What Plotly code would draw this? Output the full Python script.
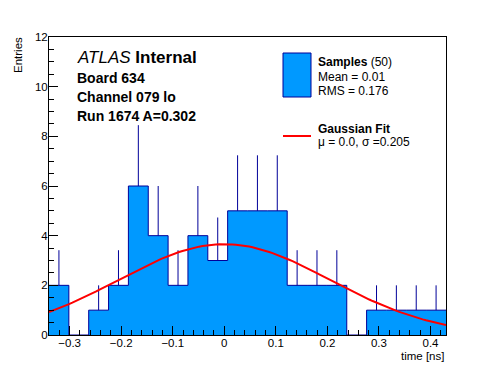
import numpy as np
import plotly.graph_objects as go

# ---- data ----
x_min = -0.34
x_max = 0.43
counts = [2, 0, 1, 2, 6, 4, 2, 4, 3, 5, 5, 5, 2, 2, 2, 0, 1, 1, 1, 1]
fit_mu = 0.0
fit_sigma = 0.205
fit_amp = 3.66
x_ticks = [-0.3, -0.2, -0.1, 0, 0.1, 0.2, 0.3, 0.4]
y_ticks = [0, 2, 4, 6, 8, 10, 12]

n_bins = len(counts)
edges = np.linspace(x_min, x_max, n_bins + 1)
centers = 0.5 * (edges[:-1] + edges[1:])

FONT = "Liberation Sans, Arial, Helvetica, sans-serif"
FILL = "#0099ff"
EDGE = "#000099"

fig = go.Figure()

# histogram as step outline with fill
step_x = list(edges)
step_y = list(counts) + [counts[-1]]
fig.add_trace(go.Scatter(
    x=step_x, y=step_y, mode="lines", line=dict(shape="hv", color=EDGE, width=1),
    fill="tozeroy", fillcolor=FILL, hoverinfo="skip", showlegend=False))

# error bars (upper only)
ex, ey = [], []
for c, n in zip(centers, counts):
    if n > 0:
        ex += [c, c, None]
        ey += [n, n + np.sqrt(n), None]
fig.add_trace(go.Scatter(x=ex, y=ey, mode="lines", line=dict(color=EDGE, width=1),
                         hoverinfo="skip", showlegend=False))

# gaussian fit curve
gx = np.linspace(x_min, x_max, 120)
gy = fit_amp * np.exp(-0.5 * ((gx - fit_mu) / fit_sigma) ** 2)
fig.add_trace(go.Scatter(x=gx, y=gy, mode="lines", line=dict(color="#ff0000", width=2),
                         hoverinfo="skip", showlegend=False))

# page body has an 8px margin: figure origin is at (8, 8) in window pixels
OFF = 8
WIN_W, WIN_H = 496, 372
L, R, T, B = 49, 446, 37, 335          # plot area in window pixels
W, H = WIN_W - OFF, WIN_H - OFF


def px(xp):
    return (xp - L) / (R - L)


def py(yp):
    return (B - yp) / (B - T)


annotations = []


def txt(text, x, y, size, xanchor="left", yanchor="middle", angle=0):
    annotations.append(dict(text=text, x=px(x), y=py(y), xref="paper", yref="paper",
                            xanchor=xanchor, yanchor=yanchor, showarrow=False,
                            textangle=angle,
                            font=dict(family=FONT, size=size, color="black")))


txt("<i>ATLAS</i> <b>Internal</b>", 75, 57.5, 17)
txt("<b>Board 634</b>", 75, 77.5, 14)
txt("<b>Channel 079 lo</b>", 75, 96.5, 14)
txt("<b>Run 1674 A=0.302</b>", 75, 115.5, 14)

txt("<b>Samples</b> (50)", 316, 62, 12)
txt("Mean = 0.01", 316, 76.5, 12)
txt("RMS = 0.176", 316, 90.5, 12)
txt("<b>Gaussian Fit</b>", 316, 129, 12)
txt("\u03bc = 0.0, \u03c3 =0.205", 316, 142, 12)

txt("time [ns]", 446, 356, 11.5, xanchor="right")
txt("Entries", 18, 55, 11.5, xanchor="center", angle=-90)

shapes = [
    dict(type="rect", xref="paper", yref="paper", x0=px(283), x1=px(311), y0=py(97), y1=py(53),
         fillcolor=FILL, line=dict(color=EDGE, width=1)),
    dict(type="line", xref="paper", yref="paper", x0=px(283), x1=px(311), y0=py(136), y1=py(136),
         line=dict(color="#ff0000", width=2)),
]

axis_common = dict(showgrid=False, zeroline=False, showline=True, mirror=True,
                   linecolor="black", linewidth=1, ticks="inside", tickcolor="black",
                   tickwidth=1, ticklen=9,
                   tickfont=dict(family=FONT, size=11.5, color="black"))

fig.update_layout(
    width=W, height=H,
    margin=dict(l=L - OFF, r=WIN_W - R, t=T - OFF, b=WIN_H - B),
    paper_bgcolor="white", plot_bgcolor="white",
    xaxis=dict(range=[x_min, x_max], tickmode="array", tickvals=x_ticks,
               ticktext=[("\u2212" if v < 0 else "") + ("0" if v == 0 else f"{abs(v):.1f}") for v in x_ticks],
               minor=dict(ticks="inside", ticklen=5, dtick=0.02, tick0=0, tickcolor="black"),
               ticklabelstandoff=-3,
               **axis_common),
    yaxis=dict(range=[0, 12], tickmode="array", tickvals=y_ticks,
               minor=dict(ticks="inside", ticklen=5, dtick=0.5, tick0=0, tickcolor="black"),
               ticklabelstandoff=-2,
               **axis_common),
    annotations=annotations, shapes=shapes, showlegend=False,
)

fig.write_html("out.html")
